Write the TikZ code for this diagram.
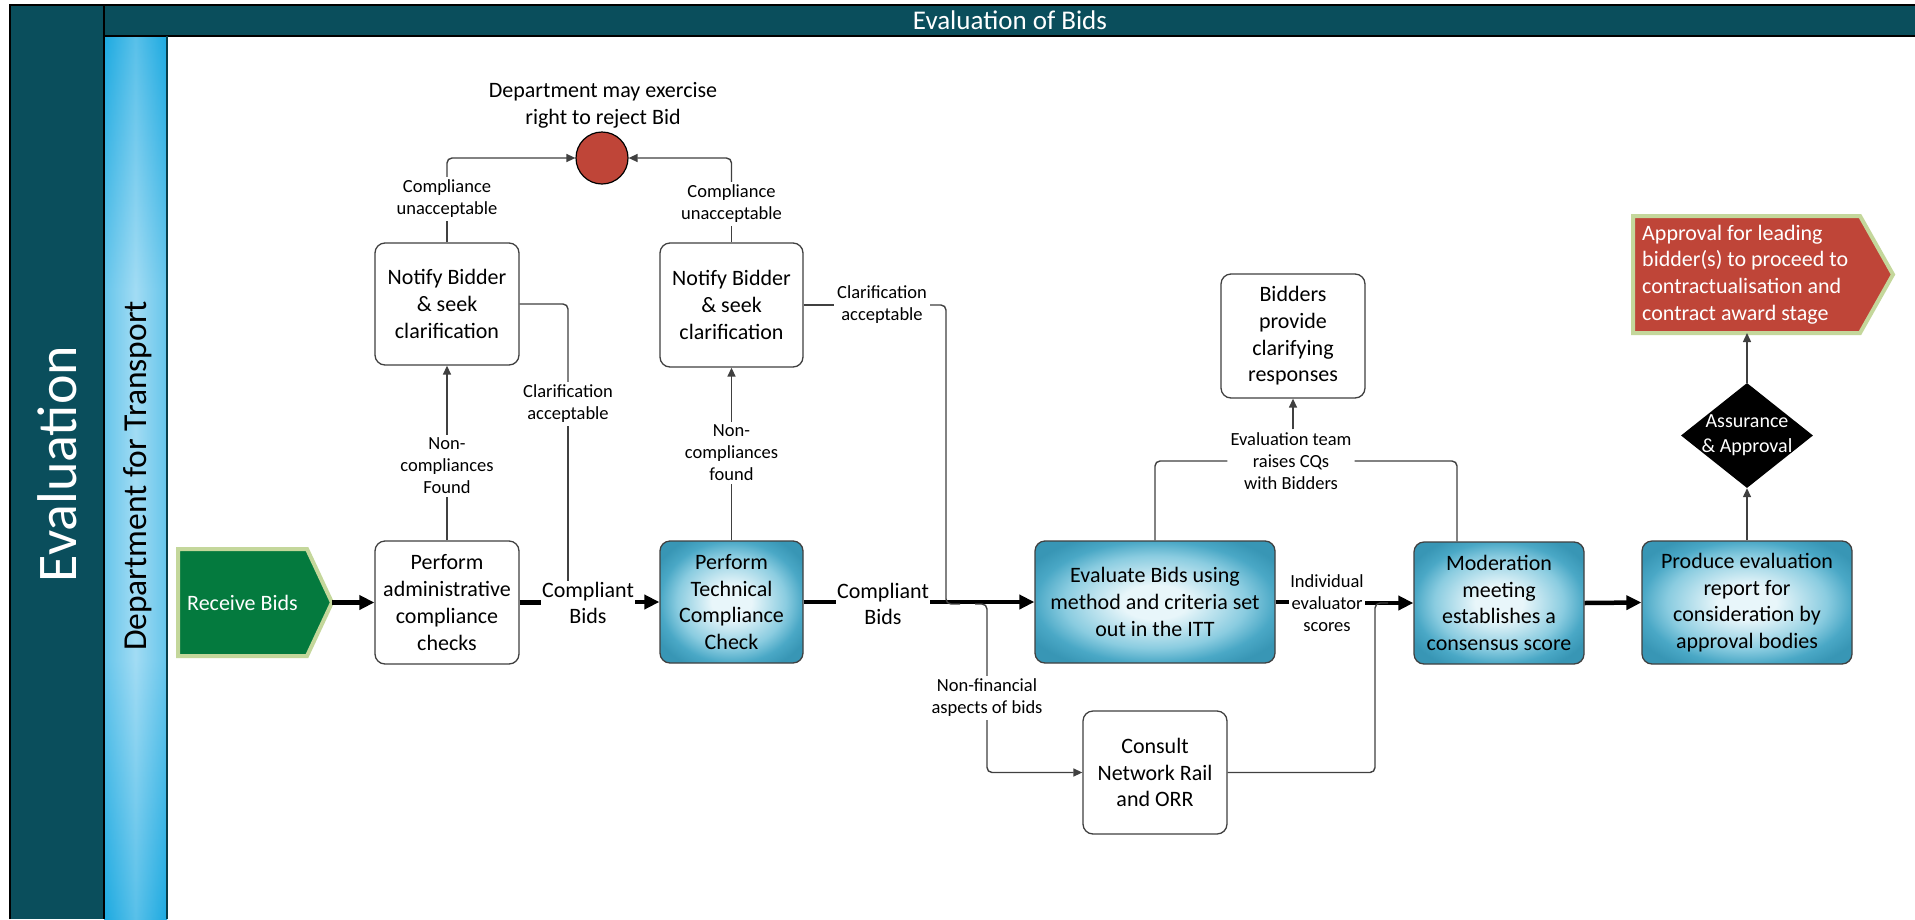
\documentclass[tikz,border=0pt]{standalone}
\usepackage{fontspec}
\setmainfont{Carlito}
\usetikzlibrary{arrows.meta,shapes.geometric,calc}

\definecolor{frameteal}{HTML}{0A4E5C}
\definecolor{lanedark}{HTML}{1DAAE1}
\definecolor{lanelight}{HTML}{A2DCF4}
\definecolor{bidgreen}{HTML}{047A3E}
\definecolor{rimgreen}{HTML}{C4D79B}
\definecolor{rejectred}{HTML}{BF4538}
\definecolor{boxline}{HTML}{404040}
\definecolor{bxin}{HTML}{E8F6FA}
\definecolor{bxmid}{HTML}{8ACCE0}
\definecolor{bxout}{HTML}{4AA8C6}
\definecolor{bxrim}{HTML}{3896B5}

% soft glow used for the highlighted process boxes
\pgfdeclareradialshading{boxglow}{\pgfpoint{0bp}{0bp}}{%
  color(0bp)=(bxin); color(7bp)=(bxin); color(19bp)=(bxmid);
  color(25bp)=(bxout); color(30bp)=(bxrim); color(50bp)=(bxrim)}

\tikzset{
  boxtext/.style={font=\fontsize{22}{26.7}\selectfont, align=center},
  lbltext/.style={font=\fontsize{18.5}{22}\selectfont, align=center, inner sep=3pt},
  flowlbl/.style={boxtext, inner sep=1pt},
  plainbox/.style={draw=boxline, line width=1.3pt, rounded corners=10pt,
    fill=white, boxtext, minimum width=144pt, minimum height=123pt, inner sep=2pt},
  bluebox/.style={plainbox, shading=boxglow},
  link/.style={draw=boxline, line width=1.4pt, rounded corners=5pt},
  linkarrow/.style={link, -{Triangle[length=9pt,width=8pt]}},
  flow/.style={draw=black, line width=4.5pt},
  flowarrow/.style={flow, -{Triangle[length=15pt,width=14pt]}},
}

\begin{document}
\begin{tikzpicture}[x=1pt, y=-1pt]
\useasboundingbox (0,0) rectangle (1915,919);
\fill[white] (0,0) rectangle (1915,919);

% ---- pool frame ----
\fill[frameteal] (10,5) rectangle (104,919);
\fill[frameteal] (104,5) rectangle (1915,36);
% lane header with vertical and horizontal glow
\shade[top color=lanedark, bottom color=lanelight] (104,36) rectangle (167,290);
\fill[lanelight] (104,290) rectangle (167,660);
\shade[top color=lanelight, bottom color=lanedark] (104,660) rectangle (167,919);
\shade[left color=lanedark, right color=lanedark, middle color=lanelight, opacity=0.45]
  (104,36) rectangle (167,919);
\draw[black, line width=1.5pt] (10,919) -- (10,5) -- (1915,5);
\draw[black, line width=1.5pt] (104,5) -- (104,919);
\draw[black, line width=1.5pt] (104,36) -- (1915,36);
\draw[frameteal!80!black, line width=1.2pt] (167,36) -- (167,919);

\node[font=\fontsize{27}{30}\selectfont, text=white] (title) at (1010,20.5) {Evaluation of Bids};
\node[font=\fontsize{56}{60}\selectfont, text=white, rotate=90] (pool) at (57,464) {Evaluation};
\node[font=\fontsize{33.5}{36}\selectfont, text=black, rotate=90] (lane) at (138,476) {Department for Transport};

% ---- start and end events ----
\draw[rimgreen, fill=bidgreen, line width=4pt]
  (178,549) -- (307,549) -- (332,602.5) -- (307,656) -- (178,656) -- cycle;
\node[boxtext, text=white, inner sep=0] (recv) at (242.5,602.5) {Receive Bids};
\coordinate (recvtip) at (332,602.5);

\draw[rimgreen, fill=rejectred, line width=4pt]
  (1633,216) -- (1860,216) -- (1893,274.5) -- (1860,333) -- (1633,333) -- cycle;
\node[boxtext, align=left, text=white, anchor=west, inner sep=0] (appr) at (1642,274.5)
  {Approval for leading\\bidder(s) to proceed to\\contractualisation and\\contract award stage};
\coordinate (apprbot) at (1747,333);

% ---- tasks ----
\node[plainbox] (admin) at (447,602.5) {Perform\\administrative\\compliance\\checks};
\node[bluebox, minimum width=143pt, minimum height=122pt] (tech) at (731.5,602) {Perform\\Technical\\Compliance\\Check};
\node[plainbox, minimum height=122pt] (n1) at (447,304) {Notify Bidder\\\& seek\\clarification};
\node[plainbox, minimum width=143pt, minimum height=124pt] (n2) at (731.5,305) {Notify Bidder\\\& seek\\clarification};
\node[circle, draw=black, line width=1.2pt, fill=rejectred, minimum size=52pt, inner sep=0] (rej) at (602,158) {};
\node[boxtext] (rejtext) at (603,105) {Department may exercise\\right to reject Bid};
\node[bluebox, minimum width=240pt, minimum height=122pt] (eval) at (1155,602) {Evaluate Bids using\\method and criteria set\\out in the ITT};
\node[plainbox] (consult) at (1155,772.5) {Consult\\Network Rail\\and ORR};
\node[bluebox, minimum width=170pt, minimum height=122pt] (mod) at (1499,603) {Moderation\\meeting\\establishes a\\consensus score};
\node[bluebox, minimum width=210pt] (prod) at (1747,602.5) {Produce evaluation\\report for\\consideration by\\approval bodies};
\node[plainbox, minimum height=124pt] (bid) at (1293,336) {Bidders\\provide\\clarifying\\responses};
\node[diamond, fill=black, minimum width=132pt, minimum height=105pt, inner sep=0] (dia) at (1747,435.5) {};
\node[font=\fontsize{20}{25}\selectfont, align=center, text=white] (diatext) at (dia.center) {Assurance\\\& Approval};

% ---- connector labels ----
\node[flowlbl] (cb1) at (588,603) {Compliant\\Bids};
\node[flowlbl] (cb2) at (883,604) {Compliant\\Bids};
\node[lbltext] (cu1) at (447,199) {Compliance\\unacceptable};
\node[lbltext] (cu2) at (731.5,204) {Compliance\\unacceptable};
\node[lbltext] (nc1) at (447,466) {Non-\\compliances\\Found};
\node[lbltext] (nc2) at (731.5,453) {Non-\\compliances\\found};
\node[lbltext] (ca1) at (568,404) {Clarification\\acceptable};
\node[lbltext] (ca2) at (882,305) {Clarification\\acceptable};
\node[lbltext] (nf) at (987,698) {Non-financial\\aspects of bids};
\node[lbltext, inner sep=1pt] (ies) at (1327,603) {Individual\\evaluator\\scores};
\node[lbltext] (et) at (1291,461) {Evaluation team\\raises CQs\\with Bidders};

\coordinate (j1) at (946,604);
\coordinate (j1r) at (960,604);
\coordinate (j3) at (975,604);
\coordinate (j2) at (1375,603);
\coordinate (j2r) at (1388,603);

% ---- main flow ----
\draw[flowarrow] (recvtip) -- (admin.west);
\draw[flow] (admin.east) -- (cb1.west |- admin.east);
\draw[flowarrow] (cb1.east |- tech.west) -- (tech.west);
\draw[flow] (tech.east) -- (cb2.west |- tech.east);
\draw[flowarrow] (cb2.east |- eval.west) -- (eval.west);
\draw[flow] (eval.east) -- (ies.west |- eval.east);
\draw[flowarrow] (ies.east |- mod.west) -- (mod.west);
\draw[flowarrow] (mod.east) -- (prod.west);

% ---- compliance loops ----
\draw[link] (admin.north) -- (nc1.south);
\draw[linkarrow] (nc1.north) -- (n1.south);
\draw[link] (n1.north) -- (cu1.south);
\draw[linkarrow] (cu1.north) |- (rej.west);
\draw[link] (n1.east) -| (ca1.north);
\draw[link] (ca1.south) -- (ca1.south |- cb1.north);

\draw[link] (tech.north) -- (nc2.south);
\draw[linkarrow] (nc2.north) -- (n2.south);
\draw[link] (n2.north) -- (cu2.south);
\draw[linkarrow] (cu2.north) |- (rej.east);
\draw[link] (n2.east) -- (ca2.west);
\draw[link] (ca2.east) -| (j1) -- (j1r);

% ---- consultation branch ----
\draw[link] (j3) -| (nf.north);
\draw[linkarrow] (nf.south) |- (consult.west);
\draw[link] (consult.east) -| (j2) -- (j2r);

% ---- clarification questions ----
\draw[link] (eval.north) |- (et.west);
\draw[link] (et.east) -| ([xshift=-42pt]mod.north);
\draw[linkarrow] (bid.south |- et.north) -- (bid.south);

% ---- approval ----
\draw[linkarrow] (prod.north) -- (dia.south);
\draw[linkarrow] (dia.north) -- (apprbot);
\end{tikzpicture}
\end{document}
